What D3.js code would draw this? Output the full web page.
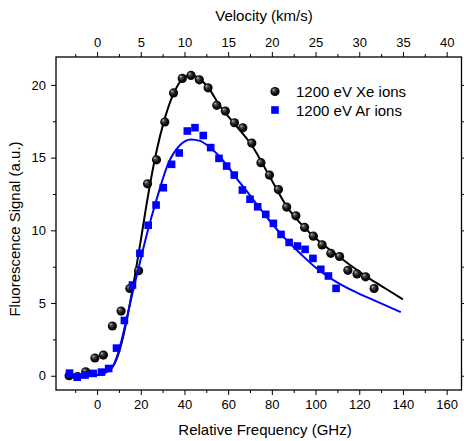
<!DOCTYPE html>
<html>
<head>
<meta charset="utf-8">
<script src="https://cdn.jsdelivr.net/npm/d3@7"></script>
<style>
  html, body { margin: 0; padding: 0; background: #fff; }
  svg { display: block; }
  text { font-family: Arial, "Liberation Sans", sans-serif; fill: #000; }
</style>
</head>
<body>
<svg id="chart" width="464" height="441"></svg>
<script>
// ---------- data ----------
const xeFreq = [-12.8, -9, -5.2, -1, 2.9, 7.0, 11.0, 15.0, 19.0, 23.1, 27.2, 31.0, 35.0, 39.0, 43.0, 46.8, 50.8, 54.8, 58.7, 62.9, 66.7, 70.8, 75.0, 78.9, 83.0, 86.8, 91.0, 95.0, 99.0, 103.0, 107.0, 111.0, 114.8, 119.0, 122.9, 126.8];
const xeSignal = [0.0, -0.05, 0.27, 1.22, 1.42, 3.42, 4.45, 6.0, 7.22, 13.2, 14.85, 17.45, 19.45, 20.45, 20.65, 20.35, 19.8, 18.6, 18.2, 17.4, 17.05, 16.0, 14.65, 13.8, 12.8, 11.6, 11.0, 10.2, 9.6, 9.0, 8.42, 8.2, 7.25, 7.0, 6.8, 6.0];

const arFreq = [-12.6, -9.1, -5.5, -1.8, 2.0, 5.3, 8.9, 12.5, 16.2, 19.6, 23.4, 27.0, 30.3, 34.1, 37.6, 41.3, 44.8, 48.6, 52.0, 55.8, 59.3, 62.8, 66.5, 70.0, 73.5, 77.2, 80.7, 84.2, 87.9, 91.7, 95.2, 98.8, 102.4, 105.9, 109.4];
const arSignal = [0.18, -0.1, 0.05, 0.16, 0.25, 0.5, 1.9, 3.8, 6.24, 8.42, 10.35, 11.74, 12.93, 14.54, 15.32, 16.83, 17.06, 16.52, 15.69, 14.95, 14.42, 13.8, 12.77, 12.14, 11.62, 11.1, 10.48, 9.72, 9.17, 8.92, 8.69, 8.07, 7.32, 6.86, 6.01];

// fitted curves
const xeFitFreq = [-12.5, -5, 0, 4.3, 8.1, 11.2, 14.2, 17, 20, 23, 27, 31, 35, 39, 43, 47, 51, 56, 63, 71, 79, 87, 93, 102, 108, 115, 123.5, 132, 140];
const xeFitSignal = [0.0, 0.0, 0.05, 0.27, 0.85, 2.23, 4.3, 6.6, 9.3, 12.1, 15.3, 17.7, 19.4, 20.4, 20.7, 20.4, 19.8, 18.6, 17.3, 15.8, 13.7, 11.6, 10.5, 9.2, 8.5, 7.7, 6.8, 6.0, 5.25];

const arFitFreq = [-12.5, -5, 0, 2.8, 6.6, 9.6, 12.7, 15.8, 19.3, 22.9, 27.2, 32.6, 37.9, 43, 47.1, 51.7, 59.3, 62.4, 68.5, 77.7, 85, 92.9, 100, 108.2, 117, 126.6, 139];
const arFitSignal = [-0.05, 0.0, 0.05, 0.16, 0.5, 1.54, 3.37, 5.43, 7.6, 9.8, 12.1, 14.6, 15.85, 16.25, 16.15, 15.7, 14.5, 13.85, 12.7, 10.9, 9.6, 8.42, 7.45, 6.58, 5.85, 5.2, 4.38];

const xTicks = [0, 20, 40, 60, 80, 100, 120, 140, 160];
const xMinorTicks = [-10, 10, 30, 50, 70, 90, 110, 130, 150];
const vTicks = [0, 5, 10, 15, 20, 25, 30, 35, 40];
const vMinorTicks = [-2.5, 2.5, 7.5, 12.5, 17.5, 22.5, 27.5, 32.5, 37.5];
const yTicks = [0, 5, 10, 15, 20];
const yMinorTicks = [2.5, 7.5, 12.5, 17.5];

const seriesNames = ["1200 eV Xe ions", "1200 eV Ar ions"];

// ---------- layout ----------
const L = 56, R = 461.5, T = 57, B = 390;
const svg = d3.select("#chart");

const x = d3.scaleLinear().domain([-18.8, 166.8]).range([L, R]);
const xv = d3.scaleLinear().domain([-18.8 / 4, 166.8 / 4]).range([L, R]);
const y = d3.scaleLinear().domain([-0.98, 21.92]).range([B, T]);

// gradient for spheres
const defs = svg.append("defs");
const grad = defs.append("radialGradient").attr("id", "ball")
  .attr("cx", "50%").attr("cy", "50%").attr("r", "55%")
  .attr("fx", "30%").attr("fy", "28%");
grad.append("stop").attr("offset", "0%").attr("stop-color", "#d8d8d8");
grad.append("stop").attr("offset", "22%").attr("stop-color", "#5a5a5a");
grad.append("stop").attr("offset", "60%").attr("stop-color", "#101010");
grad.append("stop").attr("offset", "100%").attr("stop-color", "#000");
defs.append("clipPath").attr("id", "clip").append("rect")
  .attr("x", L).attr("y", T).attr("width", R - L).attr("height", B - T);

// ---------- axes ----------
function styleAxis(g) {
  g.select(".domain").remove();
  g.selectAll("line").attr("stroke", "#000").attr("stroke-width", 1);
  g.selectAll("text").style("font-size", "13px").attr("font-family", "Arial, 'Liberation Sans', sans-serif");
}
// bottom
svg.append("g").attr("transform", `translate(0,${B})`)
  .call(d3.axisBottom(x).tickValues(xTicks).tickSize(5).tickPadding(5).tickFormat(d3.format("d")))
  .call(styleAxis);
svg.append("g").attr("transform", `translate(0,${B})`)
  .call(d3.axisBottom(x).tickValues(xMinorTicks).tickSize(3).tickFormat(""))
  .call(styleAxis);
// top
svg.append("g").attr("transform", `translate(0,${T})`)
  .call(d3.axisTop(xv).tickValues(vTicks).tickSize(5).tickPadding(5).tickFormat(d3.format("d")))
  .call(styleAxis);
svg.append("g").attr("transform", `translate(0,${T})`)
  .call(d3.axisTop(xv).tickValues(vMinorTicks).tickSize(3).tickFormat(""))
  .call(styleAxis);
// left
svg.append("g").attr("transform", `translate(${L},0)`)
  .call(d3.axisLeft(y).tickValues(yTicks).tickSize(5).tickPadding(5).tickFormat(d3.format("d")))
  .call(styleAxis);
svg.append("g").attr("transform", `translate(${L},0)`)
  .call(d3.axisLeft(y).tickValues(yMinorTicks).tickSize(3).tickFormat(""))
  .call(styleAxis);
// right
svg.append("g").attr("transform", `translate(${R},0)`)
  .call(d3.axisRight(y).tickValues(yTicks).tickSize(5).tickFormat(""))
  .call(styleAxis);
svg.append("g").attr("transform", `translate(${R},0)`)
  .call(d3.axisRight(y).tickValues(yMinorTicks).tickSize(3).tickFormat(""))
  .call(styleAxis);

// frame
svg.append("rect").attr("x", L).attr("y", T).attr("width", R - L).attr("height", B - T)
  .attr("fill", "none").attr("stroke", "#000").attr("stroke-width", 1.3);

// titles
svg.append("text").attr("x", 264).attr("y", 21).attr("text-anchor", "middle")
  .style("font-size", "15px").text("Velocity (km/s)");
svg.append("text").attr("x", 265).attr("y", 435).attr("text-anchor", "middle")
  .style("font-size", "15px").text("Relative Frequency (GHz)");
svg.append("text").attr("transform", "translate(20,229) rotate(-90)").attr("text-anchor", "middle")
  .style("font-size", "15px").text("Fluorescence Signal (a.u.)");

// ---------- data marks ----------
const plot = svg.append("g").attr("clip-path", "url(#clip)");
const line = d3.line().x(d => x(d[0])).y(d => y(d[1])).curve(d3.curveMonotoneX);

plot.append("path").datum(d3.zip(xeFitFreq, xeFitSignal))
  .attr("d", line).attr("fill", "none").attr("stroke", "#000").attr("stroke-width", 2);

plot.selectAll("circle.xe").data(d3.zip(xeFreq, xeSignal)).join("circle")
  .attr("class", "xe").attr("cx", d => x(d[0])).attr("cy", d => y(d[1]))
  .attr("r", 4.6).attr("fill", "url(#ball)");

plot.append("path").datum(d3.zip(arFitFreq, arFitSignal))
  .attr("d", line).attr("fill", "none").attr("stroke", "#0000ff").attr("stroke-width", 2);

const sq = 7.6;
plot.selectAll("rect.ar").data(d3.zip(arFreq, arSignal)).join("rect")
  .attr("class", "ar").attr("x", d => x(d[0]) - sq / 2).attr("y", d => y(d[1]) - sq / 2)
  .attr("width", sq).attr("height", sq).attr("fill", "#0000ff");

// ---------- legend ----------
const lg = svg.append("g");
lg.append("circle").attr("cx", 275).attr("cy", 91.5).attr("r", 4.6).attr("fill", "url(#ball)");
lg.append("text").attr("x", 296).attr("y", 97).style("font-size", "15px").text(seriesNames[0]);
lg.append("rect").attr("x", 275 - sq / 2).attr("y", 110 - sq / 2).attr("width", sq).attr("height", sq).attr("fill", "#0000ff");
lg.append("text").attr("x", 296).attr("y", 115.5).style("font-size", "15px").text(seriesNames[1]);
</script>
</body>
</html>
